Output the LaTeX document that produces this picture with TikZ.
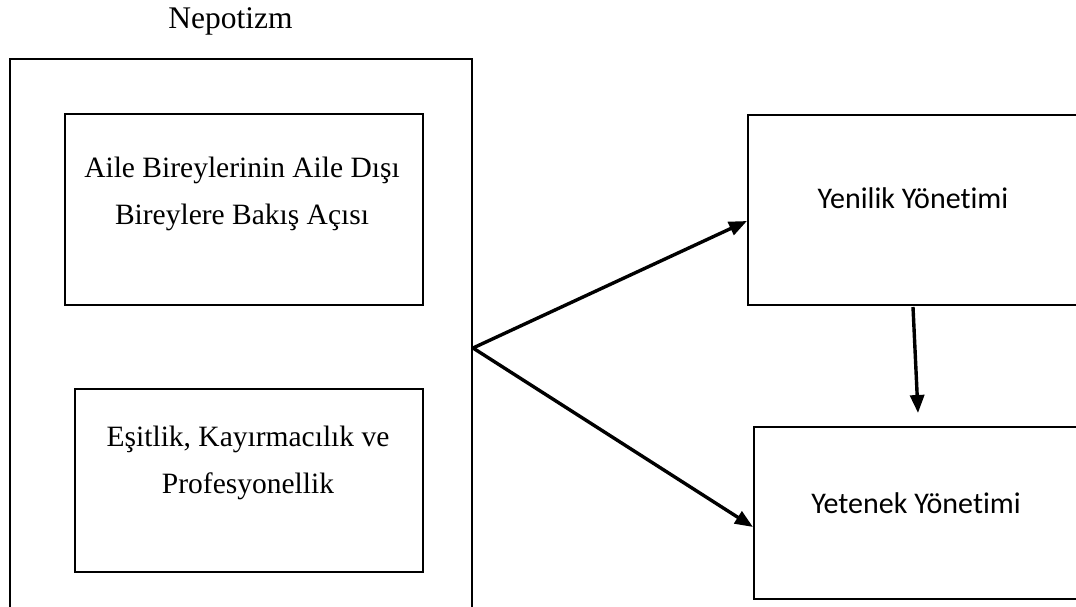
\documentclass[tikz,border=0pt]{standalone}
\usepackage{fontspec}
\setmainfont{Liberation Serif}
\newfontfamily\calibrifont[Ligatures=NoCommon]{Carlito}
\usetikzlibrary{arrows.meta}
\begin{document}
\begin{tikzpicture}[x=1pt,y=-1pt,
  boxstyle/.style={draw=black,line width=2pt,rectangle,inner sep=0pt},
  serif/.style={font=\fontsize{29.5}{47}\selectfont,inner sep=0pt,align=center},
  sans/.style={font=\calibrifont\fontsize{30}{34}\selectfont,inner sep=0pt},
  arrowstyle/.style={line width=3.4pt,-{Triangle[length=18pt,width=14pt]}}]
\clip (0,0) rectangle (1076,607);
\fill[white] (0,0) rectangle (1076,607);
% outer (open at bottom, extends beyond the picture)
\node[boxstyle,minimum width=462pt,minimum height=578pt] (outer) at (241,348) {};
% inner boxes
\node[boxstyle,minimum width=358pt,minimum height=190pt] (aile) at (244,209.5) {};
\node[boxstyle,minimum width=348pt,minimum height=183pt] (esit) at (249,480.5) {};
% right boxes
\node[boxstyle,minimum width=331pt,minimum height=190pt] (yenilik) at (913.5,210) {};
\node[boxstyle,minimum width=325pt,minimum height=172pt] (yetenek) at (916.5,513) {};
% texts
\node[serif,font=\fontsize{31.5}{40}\selectfont,anchor=base] (tnep) at (230.5,29) {Nepotizm};
\node[serif,anchor=base] (taile) at (242,224) {Aile Bireylerinin Aile Dışı\\Bireylere Bakış Açısı};
\node[serif,anchor=base] (tesit) at (248,493) {Eşitlik, Kayırmacılık ve\\Profesyonellik};
\node[sans,anchor=base] (tyen) at (913,208) {Yenilik Yönetimi};
\node[sans,anchor=base] (tyet) at (916,513) {Yetenek Yönetimi};
% arrow end points
\coordinate (t1) at (747,221);
\coordinate (t2) at (753,527);
\coordinate (s3) at (913,307);
\coordinate (t3) at (918,413);
\draw[arrowstyle] (outer.east) -- (t1);
\draw[arrowstyle] (outer.east) -- (t2);
\draw[arrowstyle] (s3) -- (t3);
\end{tikzpicture}
\end{document}
